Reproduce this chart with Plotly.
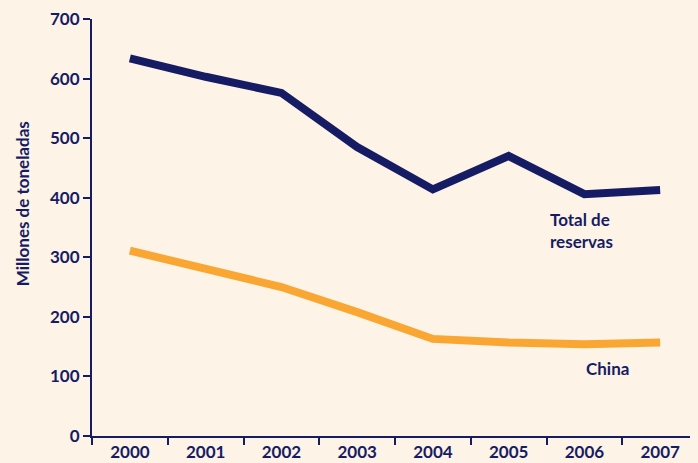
import plotly.graph_objects as go

years = ["2000", "2001", "2002", "2003", "2004", "2005", "2006", "2007"]
total_reservas = [634, 603, 576, 485, 414, 470, 406, 413]
china = [311, 282, 250, 208, 163, 157, 154, 157]
y_ticks = [0, 100, 200, 300, 400, 500, 600, 700]

navy = "#161c64"
orange = "#f9a633"
bg = "#fdf3e6"
font_family = "Lato, 'Open Sans', sans-serif"

fig = go.Figure()
fig.add_trace(go.Scatter(x=years, y=total_reservas, mode="lines",
                         line=dict(color=navy, width=8), hoverinfo="skip"))
fig.add_trace(go.Scatter(x=years, y=china, mode="lines",
                         line=dict(color=orange, width=8), hoverinfo="skip"))

fig.add_annotation(x=5.52, y=345, xref="x", yref="y", text="<b>Total de<br>reservas</b>",
                   showarrow=False, xanchor="left", yanchor="middle", align="left",
                   font=dict(family=font_family, size=17, color=navy))
fig.add_annotation(x=6.3, y=113, xref="x", yref="y", text="<b>China</b>",
                   showarrow=False, xanchor="center", yanchor="middle",
                   font=dict(family=font_family, size=17, color=navy))
fig.add_annotation(x=0, y=0.556, xref="paper", yref="paper", xshift=-70,
                   text="<b>Millones de toneladas</b>", textangle=-90,
                   showarrow=False, xanchor="center", yanchor="middle",
                   font=dict(family=font_family, size=17, color=navy))

fig.update_layout(
    width=690, height=455,
    margin=dict(l=84, r=0, t=11, b=27, autoexpand=False),
    paper_bgcolor=bg, plot_bgcolor=bg,
    showlegend=False,
    font=dict(family=font_family, color=navy),
    xaxis=dict(type="category", range=[-0.5, 7.5], tickson="boundaries",
               ticks="outside", ticklen=7, tickwidth=2, tickcolor=navy,
               showline=True, linecolor=navy, linewidth=2, showgrid=False,
               zeroline=False, automargin=False, ticklabeloverflow="allow",
               tickvals=years, ticktext=[f"<b>{y}</b>" for y in years],
               tickfont=dict(family=font_family, size=17, color=navy)),
    yaxis=dict(range=[0, 700], tickvals=y_ticks,
               ticktext=[f"<b>{v}</b>" for v in y_ticks],
               ticks="outside", ticklen=7, tickwidth=2, tickcolor=navy,
               showline=True, linecolor=navy, linewidth=2, showgrid=False,
               zeroline=False, automargin=False, ticklabeloverflow="allow",
               tickfont=dict(family=font_family, size=17, color=navy)),
)

fig.write_html("out.html",
               post_script="document.body.style.backgroundColor='%s';" % bg)
